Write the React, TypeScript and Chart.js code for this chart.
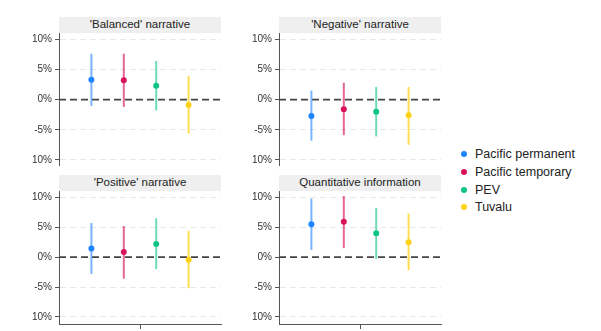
import React, { useEffect, useRef } from "react";
import { Chart, registerables } from "chart.js";
Chart.register(...registerables);

const panelTitles = ["'Balanced' narrative", "'Negative' narrative", "'Positive' narrative", "Quantitative information"];
const seriesNames = ["Pacific permanent", "Pacific temporary", "PEV", "Tuvalu"];
const seriesColors = ["#1f84ff", "#d8125b", "#0cc486", "#ffd21a"];
const seriesLineColors = ["rgba(31,132,255,0.6)", "rgba(216,18,91,0.65)", "rgba(12,196,134,0.6)", "rgba(255,210,26,0.75)"];
const seriesX = [-1.5, -0.5, 0.5, 1.5];

// estimates and 95% intervals (percent)
const balancedEst = [3.3, 3.2, 2.3, -0.9];
const balancedLo = [-1.05, -1.2, -1.8, -5.6];
const balancedHi = [7.6, 7.6, 6.4, 3.9];

const negativeEst = [-2.7, -1.6, -2.0, -2.6];
const negativeLo = [-6.8, -5.9, -6.1, -7.5];
const negativeHi = [1.5, 2.8, 2.1, 2.1];

const positiveEst = [1.45, 0.85, 2.2, -0.45];
const positiveLo = [-2.8, -3.6, -2.0, -5.2];
const positiveHi = [5.7, 5.2, 6.5, 4.4];

const quantEst = [5.5, 5.9, 4.0, 2.5];
const quantLo = [1.2, 1.5, -0.3, -2.2];
const quantHi = [9.8, 10.2, 8.2, 7.3];

const yTickValues = [-10, -5, 0, 5, 10];
const yTickLabels = ["10%", "-5%", "0%", "5%", "10%"];

const FONT = "'Liberation Sans', Arial, sans-serif";

type PanelProps = {
  title: string;
  est: number[];
  lo: number[];
  hi: number[];
  left: number;
  top: number;
  width: number;
  height: number;
  titleTop: number;
  yMin: number;
  yMax: number;
  showX: boolean;
};

function Panel(p: PanelProps) {
  const ref = useRef<HTMLCanvasElement | null>(null);
  const padTop = 14;
  const padRight = 8;
  const padBottom = 8;
  const axisW = 40;
  const xAxisH = 8;
  const cw = axisW + p.width + padRight;
  const ch = padTop + p.height + xAxisH + padBottom;

  useEffect(() => {
    if (!ref.current) return;
    const datasets: any[] = [];
    datasets.push({
      type: "line",
      data: [{ x: -2.5, y: 0 }, { x: 2.5, y: 0 }],
      borderColor: "#444",
      borderWidth: 1.8,
      borderDash: [7, 4],
      pointRadius: 0,
      showLine: true,
      order: 3,
    });
    seriesNames.forEach((name, i) => {
      datasets.push({
        type: "line",
        label: name + " CI",
        data: [{ x: seriesX[i], y: p.lo[i] }, { x: seriesX[i], y: p.hi[i] }],
        borderColor: seriesLineColors[i],
        borderWidth: 2,
        pointRadius: 0,
        showLine: true,
        order: 2,
      });
    });
    seriesNames.forEach((name, i) => {
      datasets.push({
        type: "scatter",
        label: name,
        data: [{ x: seriesX[i], y: p.est[i] }],
        backgroundColor: seriesColors[i],
        borderWidth: 0,
        pointRadius: 3,
        order: 1,
      });
    });

    const chart = new Chart(ref.current, {
      type: "scatter",
      data: { datasets },
      options: {
        responsive: false,
        animation: false,
        devicePixelRatio: 1,
        layout: { padding: { top: padTop, right: padRight, bottom: padBottom, left: 0 } },
        plugins: { legend: { display: false }, tooltip: { enabled: false }, title: { display: false } },
        scales: {
          x: {
            type: "linear",
            display: true,
            min: -2.5,
            max: 2.5,
            afterBuildTicks: (s: any) => {
              s.ticks = [{ value: 0 }];
            },
            afterFit: (s: any) => {
              s.height = xAxisH;
            },
            ticks: { display: false },
            grid: {
              drawOnChartArea: false,
              drawTicks: p.showX,
              tickLength: 5,
              tickColor: p.showX ? "#555" : "rgba(0,0,0,0)",
              color: p.showX ? "#555" : "rgba(0,0,0,0)",
            },
            border: { display: p.showX, color: "#555", width: 1 },
          },
          y: {
            type: "linear",
            min: p.yMin,
            max: p.yMax,
            afterBuildTicks: (s: any) => {
              s.ticks = yTickValues.map((v) => ({ value: v }));
            },
            afterFit: (s: any) => {
              s.width = axisW;
            },
            ticks: {
              padding: 3,
              color: "#333",
              font: { family: FONT, size: 10 },
              callback: (v: any) => {
                const idx = yTickValues.indexOf(Number(v));
                return idx >= 0 ? yTickLabels[idx] : "";
              },
            },
            grid: {
              drawOnChartArea: true,
              drawTicks: true,
              tickLength: 4,
              tickColor: "#555",
              color: (ctx: any) => (ctx.tick && ctx.tick.value === 0 ? "rgba(0,0,0,0)" : "#e8e8e8"),
              lineWidth: 1,
            },
            border: { display: true, color: "#555", width: 1, dash: [6, 4] },
          },
        },
      } as any,
    });
    return () => chart.destroy();
  }, []);

  return (
    <>
      <div
        style={{
          position: "absolute",
          left: p.left,
          top: p.titleTop,
          width: p.width,
          height: 15.5,
          background: "#efefef",
          fontFamily: FONT,
          fontSize: 11.5,
          lineHeight: "15.5px",
          textAlign: "center",
          color: "#222",
          zIndex: 2,
        }}
      >
        {p.title}
      </div>
      <canvas
        ref={ref}
        width={cw}
        height={ch}
        style={{ position: "absolute", left: p.left - axisW, top: p.top - padTop, width: cw, height: ch, zIndex: 1 }}
      />
    </>
  );
}

export default function App() {
  const legendTops = [154, 172, 190, 207];
  return (
    <div style={{ position: "fixed", left: 0, top: 0, width: 601, height: 331, background: "#fff", overflow: "hidden" }}>
      <Panel title={panelTitles[0]} est={balancedEst} lo={balancedLo} hi={balancedHi}
        left={59} top={33} width={162} height={132} titleTop={17} yMin={-10.83} yMax={11.04} showX={false} />
      <Panel title={panelTitles[1]} est={negativeEst} lo={negativeLo} hi={negativeHi}
        left={279} top={33} width={162} height={132} titleTop={17} yMin={-10.83} yMax={11.04} showX={false} />
      <Panel title={panelTitles[2]} est={positiveEst} lo={positiveLo} hi={positiveHi}
        left={59} top={191} width={162} height={133} titleTop={175} yMin={-11.17} yMax={11.05} showX={true} />
      <Panel title={panelTitles[3]} est={quantEst} lo={quantLo} hi={quantHi}
        left={279} top={191} width={162} height={133} titleTop={175} yMin={-11.17} yMax={11.05} showX={true} />
      {seriesNames.map((name, i) => (
        <div key={name} style={{ position: "absolute", left: 461, top: legendTops[i] - 9, height: 18, display: "flex", alignItems: "center" }}>
          <div style={{ width: 6, height: 6, borderRadius: 3, background: seriesColors[i], marginRight: 8 }} />
          <span style={{ fontFamily: FONT, fontSize: 12.5, color: "#222", whiteSpace: "nowrap" }}>{name}</span>
        </div>
      ))}
    </div>
  );
}
